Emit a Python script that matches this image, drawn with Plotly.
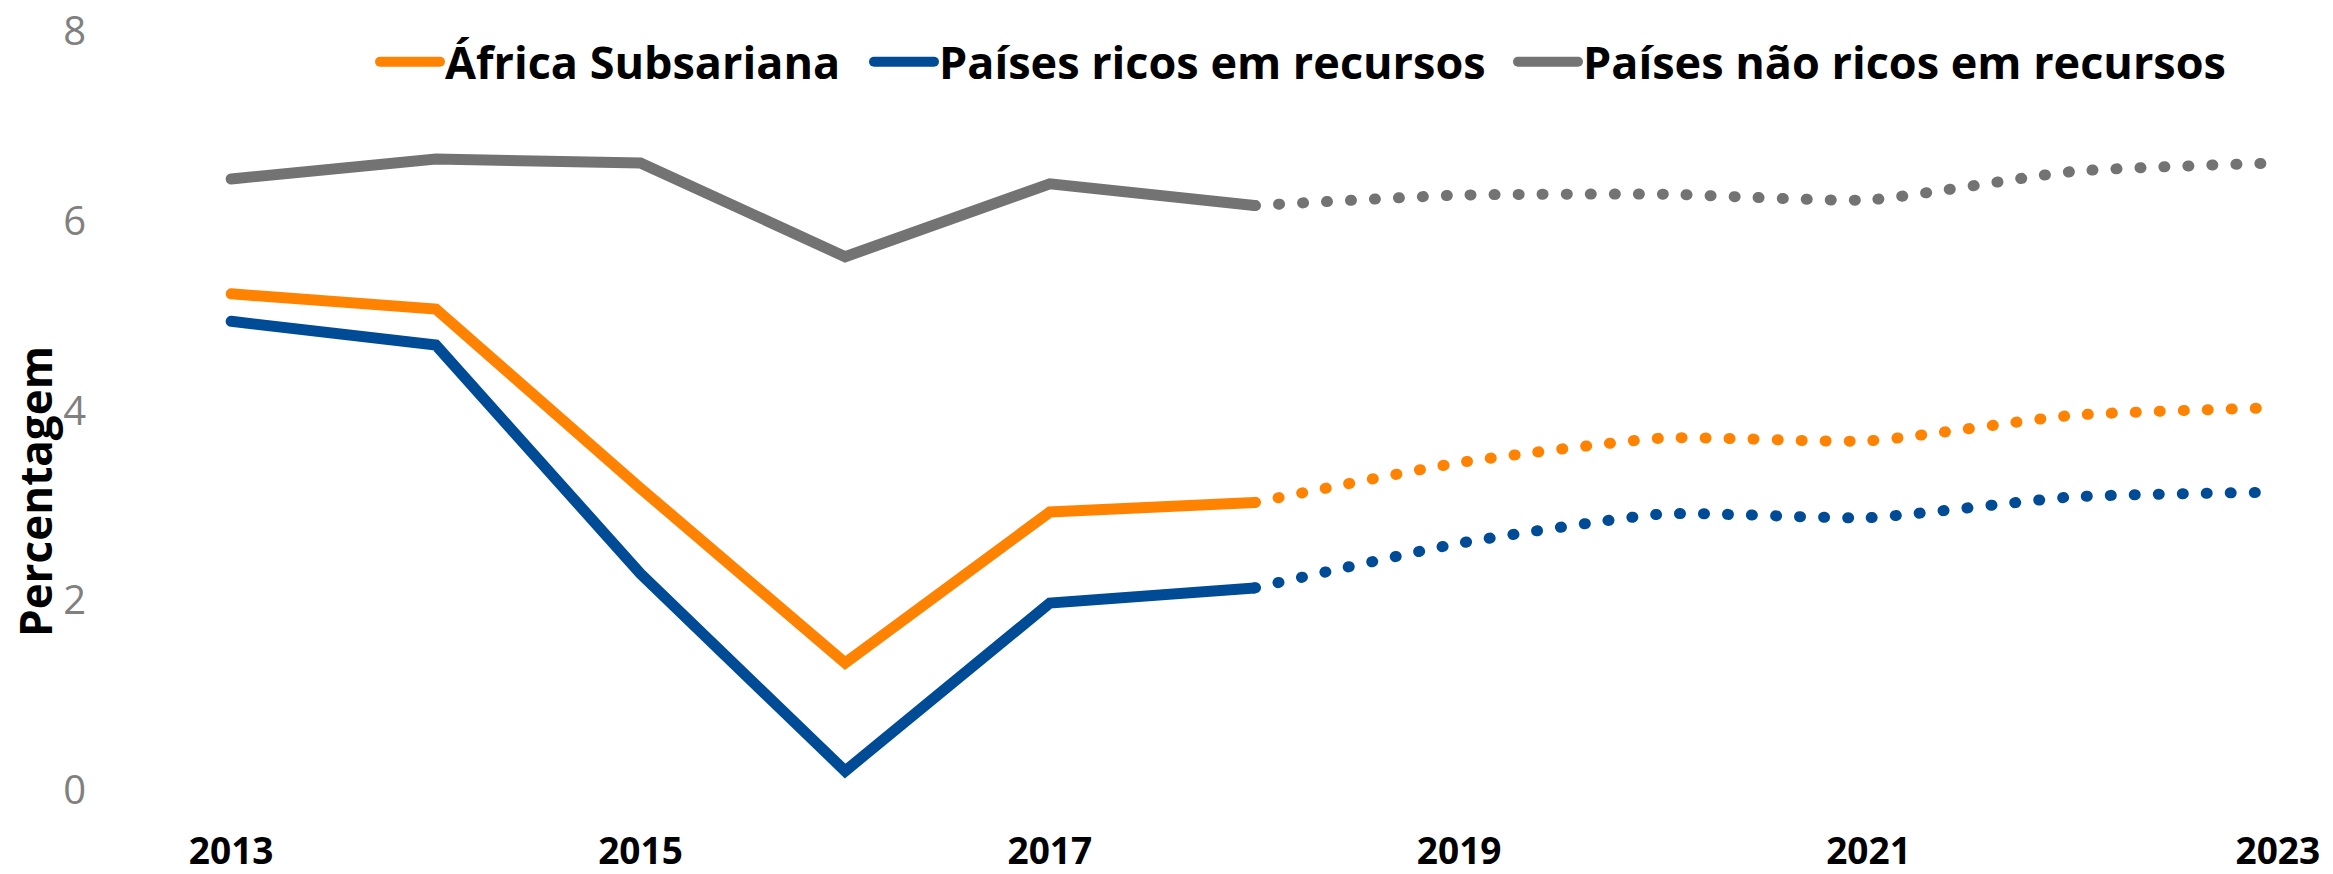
import plotly.graph_objects as go

years_actual = [2013, 2014, 2015, 2016, 2017, 2018]
years_proj = [2018, 2019, 2020, 2021, 2022, 2023]

ssa_actual = [5.23, 5.07, 3.18, 1.34, 2.93, 3.03]
ssa_proj = [3.03, 3.45, 3.71, 3.68, 3.95, 4.03]

rich_actual = [4.94, 4.69, 2.28, 0.20, 1.97, 2.13]
rich_proj = [2.13, 2.60, 2.91, 2.87, 3.09, 3.14]

nonrich_actual = [6.44, 6.65, 6.61, 5.62, 6.39, 6.16]
nonrich_proj = [6.16, 6.27, 6.28, 6.22, 6.52, 6.61]

names = ["África Subsariana", "Países ricos em recursos", "Países não ricos em recursos"]
colors = ["#FF8300", "#004B96", "#737373"]

x_tickvals = [2013, 2015, 2017, 2019, 2021, 2023]
x_ticktext = ["2013", "2015", "2017", "2019", "2021", "2023"]
y_tickvals = [0, 2, 4, 6, 8]
y_ticktext = ["0", "2", "4", "6", "8"]

W, H = 2333, 874
L, R, T, B = 225, 49, 31, 84
pw = W - L - R
ph = H - T - B

legend_ids = ["legend", "legend2", "legend3"]
legend_px = [375, 869, 1513]   # left pixel of each legend box

fig = go.Figure()
for name, col, ya, yp, lid in zip(names, colors,
                                  [ssa_actual, rich_actual, nonrich_actual],
                                  [ssa_proj, rich_proj, nonrich_proj], legend_ids):
    fig.add_trace(go.Scatter(x=years_actual, y=ya, mode="lines", name=name,
                             line=dict(color=col, width=11), showlegend=True,
                             legend=lid))
    fig.add_trace(go.Scatter(x=years_proj, y=yp, mode="lines", name=name,
                             line=dict(color=col, width=11, dash="1px,23px",
                                       shape="spline", smoothing=0.5),
                             showlegend=False))

leg_common = dict(orientation="h", xanchor="left", yanchor="middle",
                  y=(H - B - 62) / ph, itemwidth=60,
                  font=dict(size=45, color="black", weight="bold"),
                  bgcolor="rgba(0,0,0,0)")

fig.update_layout(
    width=W, height=H,
    margin=dict(l=L, r=R, t=T, b=B, autoexpand=False),
    paper_bgcolor="white", plot_bgcolor="white",
    font=dict(family="Open Sans, sans-serif"),
    xaxis=dict(range=[2012.97, 2023.03], tickvals=x_tickvals, ticktext=x_ticktext,
               showgrid=False, zeroline=False, showline=False, automargin=False,
               tickfont=dict(size=37, color="black", weight="bold"),
               ticklabelstandoff=36),
    yaxis=dict(range=[0, 8], tickvals=y_tickvals, ticktext=y_ticktext,
               showgrid=False, zeroline=False, showline=False, automargin=False,
               tickfont=dict(size=40, color="#808080"),
               ticklabelstandoff=138),
    legend=dict(x=(legend_px[0] - L) / pw, **leg_common),
    legend2=dict(x=(legend_px[1] - L) / pw, **leg_common),
    legend3=dict(x=(legend_px[2] - L) / pw, **leg_common),
    annotations=[dict(text="Percentagem", textangle=-90, showarrow=False,
                      xref="paper", yref="paper",
                      x=(35 - L) / pw, y=(H - B - 492) / ph,
                      xanchor="center", yanchor="middle",
                      font=dict(size=44, color="black", weight="bold"))],
)

post = ("var s=document.createElement('style');"
        "s.innerHTML='.js-line{stroke-linecap:round !important;}';"
        "document.head.appendChild(s);document.body.style.margin='0';")
fig.write_html("out.html", post_script=post, config={"displayModeBar": False})
